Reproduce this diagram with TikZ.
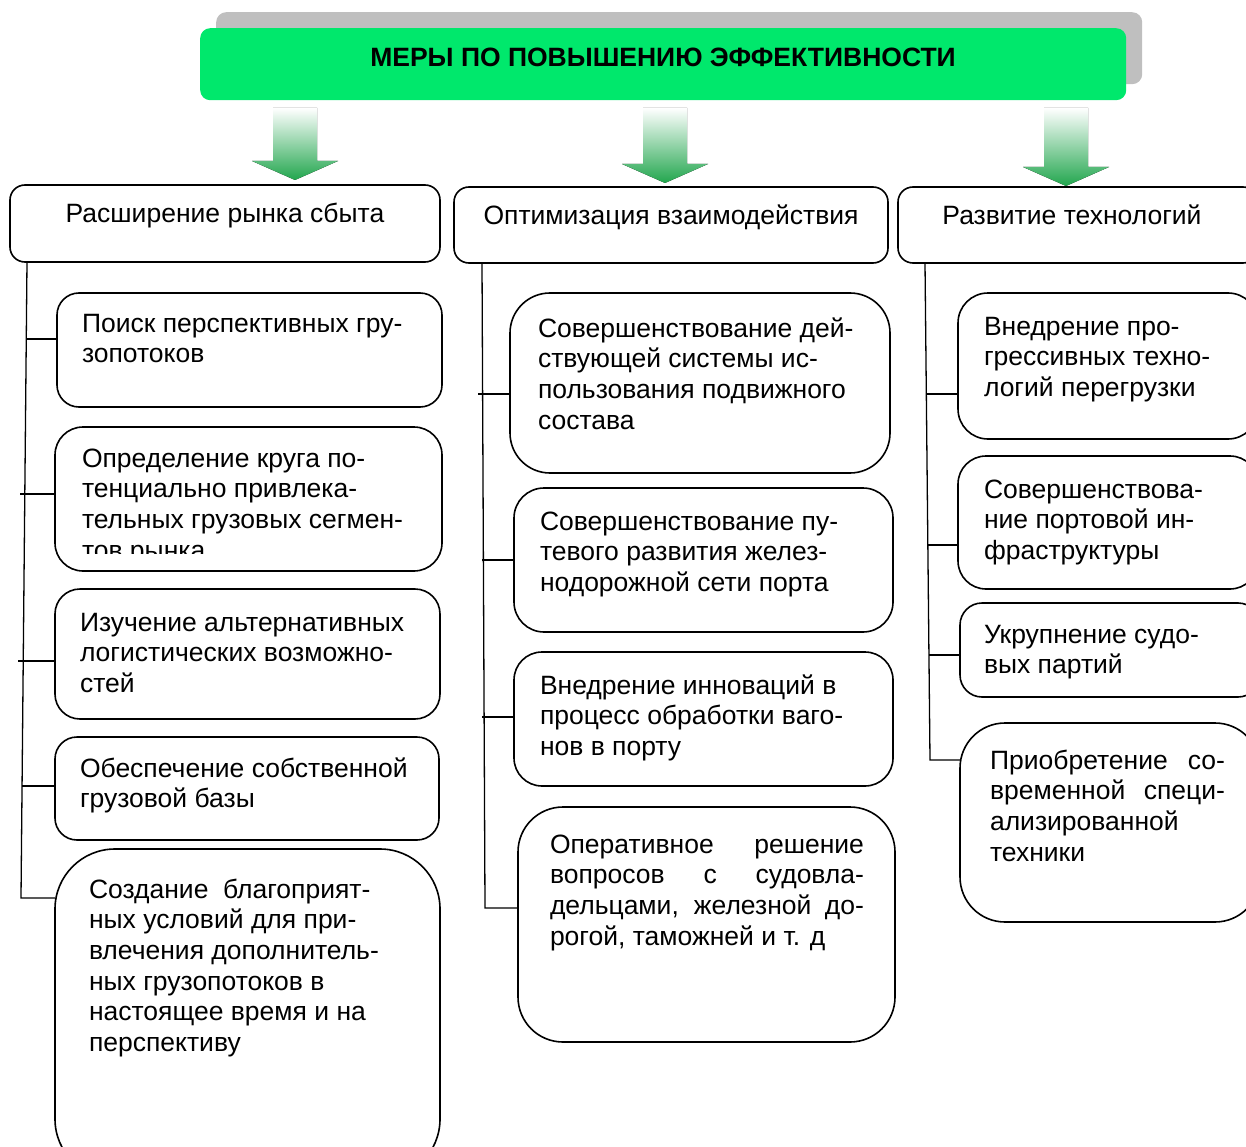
\documentclass[tikz,border=0pt]{standalone}
\usepackage{fontspec}
\setmainfont{Liberation Sans}
\definecolor{titlegreen}{RGB}{0,232,108}
\definecolor{shadowgray}{RGB}{191,191,191}
\definecolor{arrowgreen}{RGB}{34,166,78}
\newcommand{\fsz}{\fontsize{26.5}{30.7}\selectfont}
\newcommand{\greenarrow}[2]{%
  \fill[arr] (#1-22,108) -- (#1+22,108) -- (#1+22,#2-19) -- (#1+43,#2-19) -- (#1,#2) -- (#1-43,#2-19) -- (#1-22,#2-19) -- cycle;}
\begin{document}
\begin{tikzpicture}[x=1pt,y=-1pt,
  box/.style={draw=black, line width=1.6pt, rounded corners=#1, anchor=north west, inner sep=0pt, outer sep=0pt},
  box/.default=22pt,
  txt/.style={anchor=base west, inner sep=0pt, outer sep=0pt, align=left, font=\fsz, yshift={-(#1-1)*30.7pt}},
  htxt/.style={anchor=base, inner sep=0pt, font=\fsz},
  conn/.style={draw=black, line width=1.3pt},
  arr/.style={top color=white, bottom color=arrowgreen, draw=none}
]
\useasboundingbox (0,0) rectangle (1246,1147);
\clip (0,0) rectangle (1246,1147);

% title
\node[fill=shadowgray, rounded corners=10pt, minimum width=926pt, minimum height=72pt, anchor=north west, inner sep=0pt] (shadow) at (216,12) {};
\node[fill=titlegreen, rounded corners=10pt, minimum width=926pt, minimum height=72pt, anchor=north west, inner sep=0pt] (title) at (200,28) {};
\node[font=\fsz\bfseries, inner sep=0pt] (titletext) at (663,57) {МЕРЫ ПО ПОВЫШЕНИЮ ЭФФЕКТИВНОСТИ};

% arrows
\greenarrow{295}{180}
\greenarrow{665}{183}
\greenarrow{1066}{186}

% headers
\node[box=15pt, minimum width=430pt, minimum height=77pt] (hL) at (10,185) {};
\node[box=15pt, minimum width=434pt, minimum height=76pt] (hM) at (454,187) {};
\node[box=15pt, minimum width=360pt, minimum height=76pt] (hR) at (898,187) {};
\node[htxt] (hLt) at (225,223) {Расширение рынка сбыта};
\node[htxt] (hMt) at (671,225) {Оптимизация взаимодействия};
\node[htxt] (hRt) at (1072,225) {Развитие технологий};

% left column boxes
\node[box=22pt, minimum width=385pt, minimum height=114pt] (l1) at (57,293) {};
\node[box=28pt, minimum width=387pt, minimum height=144pt] (l2) at (55,427) {};
\node[box=25pt, minimum width=385pt, minimum height=130pt] (l3) at (55,589) {};
\node[box=22pt, minimum width=384pt, minimum height=103pt] (l4) at (55,737) {};
\node[box=60pt, minimum width=385pt, minimum height=330pt] (l5) at (55,849) {};

\node[txt=2] (l1t) at (82,332) {Поиск перспективных гру-\\зопотоков};
\begin{scope}
\clip (0,0) rectangle (1246,553);
\node[txt=4] (l2t) at (82,467) {Определение круга по-\\тенциально привлека-\\тельных грузовых сегмен-\\тов рынка};
\end{scope}
\node[txt=3] (l3t) at (80,631) {Изучение альтернативных\\логистических возможно-\\стей};
\node[txt=2] (l4t) at (80,777) {Обеспечение собственной\\грузовой базы};
\node[txt=6] (l5t) at (89,898) {Создание~ благоприят-\\ных условий для при-\\влечения дополнитель-\\ных грузопотоков в\\настоящее время и на\\перспективу};

% middle column boxes
\node[box=40pt, minimum width=380pt, minimum height=180pt] (m1) at (510,293) {};
\node[box=30pt, minimum width=379pt, minimum height=144pt] (m2) at (514,488) {};
\node[box=28pt, minimum width=379pt, minimum height=134pt] (m3) at (514,652) {};
\node[box=45pt, minimum width=377pt, minimum height=235pt] (m4) at (518,807) {};

\node[txt=4] (m1t) at (538,337) {Совершенствование дей-\\ствующей системы ис-\\пользования подвижного\\состава};
\node[txt=3] (m2t) at (540,530) {Совершенствование пу-\\тевого развития желез-\\нодорожной сети порта};
\node[txt=3] (m3t) at (540,694) {Внедрение инноваций в\\процесс обработки ваго-\\нов в порту};
\node[txt=4] (m4t) at (550,853) {\makebox[314pt][s]{Оперативное решение}\\\makebox[314pt][s]{вопросов с судовла-}\\\makebox[314pt][s]{дельцами, железной до-}\\рогой, таможней и т. д};

% right column boxes
\node[box=30pt, minimum width=300pt, minimum height=146pt] (r1) at (958,293) {};
\node[box=28pt, minimum width=300pt, minimum height=133pt] (r2) at (958,456) {};
\node[box=22pt, minimum width=300pt, minimum height=94pt] (r3) at (960,603) {};
\node[box=45pt, minimum width=300pt, minimum height=199pt] (r4) at (960,723) {};

\node[txt=3] (r1t) at (984,335) {Внедрение про-\\грессивных техно-\\логий перегрузки};
\node[txt=3] (r2t) at (984,498) {Совершенствова-\\ние портовой ин-\\фраструктуры};
\node[txt=2] (r3t) at (984,643) {Укрупнение судо-\\вых партий};
\node[txt=4] (r4t) at (990,769) {\makebox[235pt][s]{Приобретение со-}\\\makebox[235pt][s]{временной специ-}\\ализированной\\техники};

% left connectors
\coordinate (lt) at (27,262);
\coordinate (lb) at (21,898);
\draw[conn] (lt |- hL.south) -- (lb) -- (lb -| l5.west);
\coordinate (la1) at (27,339);
\coordinate (la2) at (20,494);
\coordinate (la3) at (18,661);
\coordinate (la4) at (22,786);
\draw[conn] (la1) -- (la1 -| l1.west);
\draw[conn] (la2) -- (la2 -| l2.west);
\draw[conn] (la3) -- (la3 -| l3.west);
\draw[conn] (la4) -- (la4 -| l4.west);

% middle connectors
\coordinate (mt) at (482,265);
\coordinate (mb) at (485,908);
\draw[conn] (mt |- hM.south) -- (mb) -- (mb -| m4.west);
\coordinate (ma1) at (478,394);
\coordinate (ma2) at (482,560);
\coordinate (ma3) at (482,717);
\draw[conn] (ma1) -- (ma1 -| m1.west);
\draw[conn] (ma2) -- (ma2 -| m2.west);
\draw[conn] (ma3) -- (ma3 -| m3.west);

% right connectors
\coordinate (rt) at (925,265);
\coordinate (rb) at (930,760);
\draw[conn] (rt |- hR.south) -- (rb) -- (rb -| r4.west);
\coordinate (ra1) at (927,394);
\coordinate (ra2) at (928,545);
\coordinate (ra3) at (929,655);
\draw[conn] (ra1) -- (ra1 -| r1.west);
\draw[conn] (ra2) -- (ra2 -| r2.west);
\draw[conn] (ra3) -- (ra3 -| r3.west);
\end{tikzpicture}
\end{document}
